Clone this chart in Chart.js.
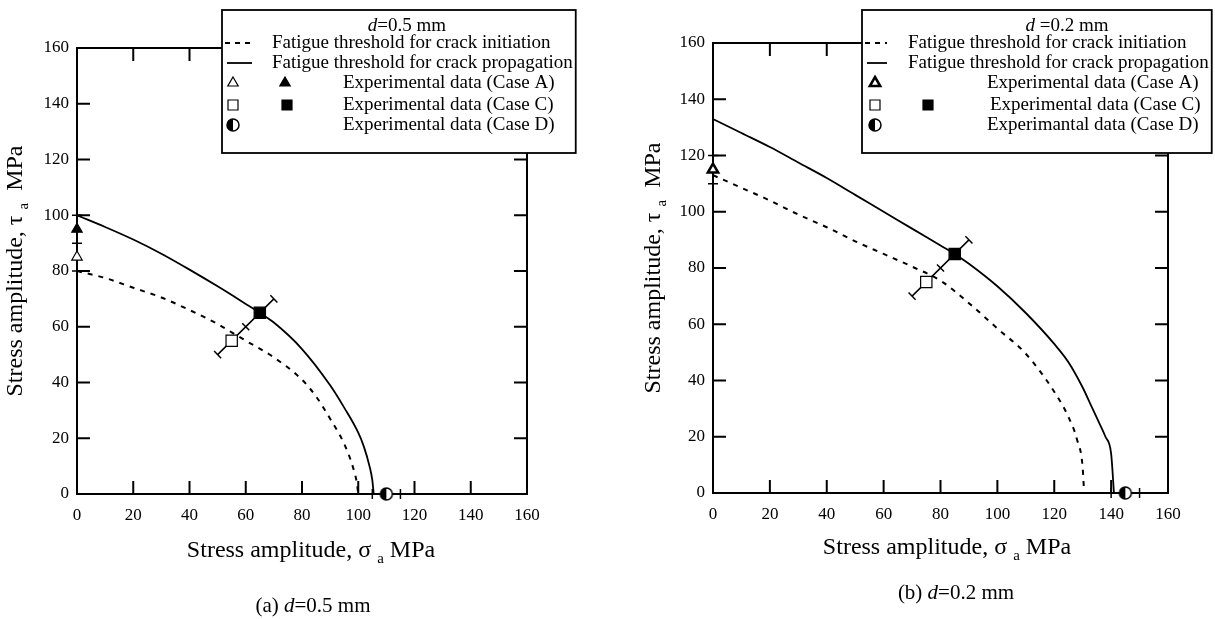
<!DOCTYPE html>
<html>
<head>
<meta charset="utf-8">
<script src="https://cdn.jsdelivr.net/npm/chart.js@4.4.0/dist/chart.umd.min.js"></script>
<style>
  body { margin: 0; background: #fff; width: 1215px; height: 619px; position: relative; overflow: hidden; }
  canvas { position: absolute; top: 0; }
</style>
</head>
<body>
<canvas id="chartA" width="607" height="619" style="left:0px"></canvas>
<canvas id="chartB" width="608" height="619" style="left:607px"></canvas>
<script>
// tick values shared by both axes of both panels
var axisTicks = [0, 20, 40, 60, 80, 100, 120, 140, 160];

// ---- (a) d=0.5 mm ----
var a_initX = [0, 10, 20, 30, 40, 50, 55, 60, 70, 80, 85, 90, 95, 98, 99.5, 100];
var a_initY = [80, 77.5, 74, 70.5, 66, 61, 58, 55, 49, 41, 35, 27, 18, 10, 4, 0];
var a_propX = [0, 10, 20, 30, 40, 50, 60, 65, 70, 80, 90, 95, 100, 102, 104, 105, 105.5];
var a_propY = [100, 95.8, 91.3, 86.2, 80.5, 74.5, 68.2, 65, 61.5, 52, 39, 31, 22, 17, 10, 5, 0];
var a_triOpen = [[0, 85]];
var a_triFill = [[0, 95]];
var a_sqOpen = [[55, 55]];
var a_sqFill = [[65, 65]];
var a_half = [[110, 0]];
var a_errA = [[0, 80], [0, 90], [0, 100]];
var a_errC = [[50, 50], [60, 60], [70, 70]];
var a_errD = [[105, 0], [115, 0]];
var a_legendText = ['Fatigue threshold for crack initiation', 'Fatigue threshold for crack propagation',
  'Experimental data (Case A)', 'Experimental data (Case C)', 'Experimental data (Case D)'];

// ---- (b) d=0.2 mm ----
var b_initX = [0, 10, 20, 30, 40, 50, 60, 70, 80, 90, 100, 110, 120, 125, 128, 130, 130.5];
var b_initY = [113, 108.5, 104, 99, 94.5, 89.5, 85, 80.5, 75.5, 67.5, 58.5, 49.5, 36, 27, 19, 9, 0];
var b_propX = [0, 10, 20, 30, 40, 50, 60, 70, 80, 85, 90, 100, 110, 120, 125, 130, 133, 136, 138, 140, 141];
var b_propY = [133, 128, 123, 117.5, 112, 106, 100, 94, 88, 85, 81.5, 73.5, 64, 53, 46.5, 37.5, 31, 24.5, 20, 14, 0];
var b_triOpen = [[0, 115]];
var b_sqOpen = [[75, 75]];
var b_sqFill = [[85, 85]];
var b_half = [[145, 0]];
var b_errA = [[0, 110], [0, 120]];
var b_errC = [[70, 70], [80, 80], [90, 90]];
var b_errD = [[140, 0], [150, 0]];
var b_legendText = ['Fatigue threshold for crack initiation', 'Fatigue threshold for crack propagation',
  'Experimental data (Case A)', 'Experimental data (Case C)', 'Experimantal data (Case D)'];

var SERIF = '"Liberation Serif", "Times New Roman", serif';

function pts(xs, ys) {
  return xs.map(function (x, i) { return { x: x, y: ys[i] }; });
}
function pairs(arr) {
  return arr.map(function (p) { return { x: p[0], y: p[1] }; });
}

function halfCircle(r) {
  var c = document.createElement('canvas');
  c.width = c.height = 2 * r + 4;
  var g = c.getContext('2d');
  var m = r + 2;
  g.beginPath(); g.arc(m, m, r, 0, 2 * Math.PI); g.fillStyle = '#fff'; g.fill();
  g.beginPath(); g.moveTo(m, m - r); g.arc(m, m, r, -Math.PI / 2, Math.PI / 2, true); g.closePath();
  g.fillStyle = '#000'; g.fill();
  g.beginPath(); g.arc(m, m, r, 0, 2 * Math.PI); g.lineWidth = 1.5; g.strokeStyle = '#000'; g.stroke();
  return c;
}
var halfImg = halfCircle(6);

function drawRuns(ctx, runs, x, y, align) {
  var total = 0;
  runs.forEach(function (r) { ctx.font = r.font; r.w = ctx.measureText(r.t).width; total += r.w; });
  var cx = align === 'center' ? x - total / 2 : x;
  ctx.textAlign = 'left';
  ctx.textBaseline = 'alphabetic';
  runs.forEach(function (r) { ctx.font = r.font; ctx.fillText(r.t, cx, y + (r.dy || 0)); cx += r.w; });
}

function marker(ctx, type, x, y, filled, lw) {
  ctx.save();
  ctx.lineWidth = lw || 1.2;
  ctx.strokeStyle = '#000';
  ctx.fillStyle = filled ? '#000' : '#fff';
  ctx.beginPath();
  if (type === 'tri') {
    ctx.moveTo(x, y - 6); ctx.lineTo(x + 5.2, y + 3); ctx.lineTo(x - 5.2, y + 3); ctx.closePath();
    ctx.fill(); ctx.stroke();
  } else if (type === 'sq') {
    ctx.rect(x - 5, y - 5, 10, 10); ctx.fill(); ctx.stroke();
  } else if (type === 'half') {
    ctx.drawImage(halfImg, x - halfImg.width / 2, y - halfImg.height / 2);
  }
  ctx.restore();
}

function makePanel(canvasId, cfg) {
  var tickFont = { family: SERIF, size: 17 };

  var framePlugin = {
    id: 'frame',
    beforeDatasetsDraw: function (chart) {
      var ctx = chart.ctx, a = chart.chartArea, xs = chart.scales.x, ys = chart.scales.y;
      ctx.save();
      ctx.strokeStyle = '#000';
      ctx.lineWidth = 2;
      ctx.strokeRect(a.left, a.top, a.right - a.left, a.bottom - a.top);
      axisTicks.forEach(function (v) {
        var px = xs.getPixelForValue(v), py = ys.getPixelForValue(v);
        ctx.beginPath();
        ctx.moveTo(px, a.bottom); ctx.lineTo(px, a.bottom - 13);
        ctx.moveTo(px, a.top); ctx.lineTo(px, a.top + 13);
        ctx.moveTo(a.left, py); ctx.lineTo(a.left + 13, py);
        ctx.moveTo(a.right, py); ctx.lineTo(a.right - 13, py);
        ctx.stroke();
      });
      // error bars
      ctx.lineWidth = 1.5;
      cfg.errBars.forEach(function (bar) {
        var p = bar.map(function (q) { return [xs.getPixelForValue(q[0]), ys.getPixelForValue(q[1])]; });
        var f = p[0], l = p[p.length - 1];
        var dx = l[0] - f[0], dy = l[1] - f[1], len = Math.sqrt(dx * dx + dy * dy) || 1;
        var nx = -dy / len * 5, ny = dx / len * 5;
        ctx.beginPath();
        ctx.moveTo(f[0], f[1]); ctx.lineTo(l[0], l[1]);
        p.forEach(function (q) { ctx.moveTo(q[0] - nx, q[1] - ny); ctx.lineTo(q[0] + nx, q[1] + ny); });
        ctx.stroke();
      });
      ctx.restore();
    },
    afterDraw: function (chart) {
      var ctx = chart.ctx;
      var g = cfg.legend;
      ctx.save();
      ctx.fillStyle = '#000';
      // axis titles
      var big = '24px ' + SERIF, sub = '15px ' + SERIF;
      drawRuns(ctx, [{ t: 'Stress amplitude, \u03c3 ', font: big }, { t: 'a', font: sub, dy: 6 }, { t: ' MPa', font: big }],
        cfg.xTitle[0], cfg.xTitle[1], 'center');
      ctx.save();
      ctx.translate(cfg.yTitle[0], cfg.yTitle[1]);
      ctx.rotate(-Math.PI / 2);
      drawRuns(ctx, [{ t: 'Stress amplitude, \u03c4 ', font: big }, { t: 'a', font: sub, dy: 6 }, { t: '  MPa', font: big }],
        0, 8, 'center');
      ctx.restore();
      // caption
      var cap = '21px ' + SERIF;
      drawRuns(ctx, [{ t: cfg.caption[0], font: cap }, { t: 'd', font: 'italic ' + cap }, { t: cfg.caption[1], font: cap }],
        cfg.capPos[0], cfg.capPos[1], 'center');

      // legend box
      var lf = '19px ' + SERIF;
      ctx.font = lf;
      var tw = ctx.measureText(g.text[1]).width;
      var bw = g.lineTextX - g.box[0] + tw + 3;
      ctx.fillStyle = '#fff';
      ctx.fillRect(g.box[0], g.box[1], bw, g.box[2]);
      ctx.strokeStyle = '#000';
      ctx.lineWidth = 1.8;
      ctx.strokeRect(g.box[0], g.box[1], bw, g.box[2]);
      ctx.fillStyle = '#000';
      drawRuns(ctx, [{ t: 'd', font: 'italic ' + lf }, { t: g.title, font: lf }], g.titleX, g.rows[0] + 6, 'center');
      // line samples
      ctx.lineWidth = 1.8;
      ctx.setLineDash([5, 5]);
      ctx.beginPath(); ctx.moveTo(g.sample[0], g.rows[1]); ctx.lineTo(g.sample[1], g.rows[1]); ctx.stroke();
      ctx.setLineDash([]);
      ctx.beginPath(); ctx.moveTo(g.sample[0] + 2, g.rows[2]); ctx.lineTo(g.sample[1], g.rows[2]); ctx.stroke();
      ctx.font = lf;
      ctx.textBaseline = 'middle';
      ctx.fillText(g.text[0], g.lineTextX, g.rows[1]);
      ctx.fillText(g.text[1], g.lineTextX, g.rows[2]);
      for (var i = 2; i < 5; i++) ctx.fillText(g.text[i], g.dataTextX[i - 2], g.rows[i + 1]);
      g.marks.forEach(function (m) { marker(ctx, m[0], m[1], g.rows[m[2]], m[3], m[4]); });
      ctx.restore();
    }
  };

  var line = function (xs, ys, dash) {
    return {
      type: 'line', data: pts(xs, ys), borderColor: '#000', borderWidth: dash ? 2 : 1.8,
      borderDash: dash ? [5, 6] : [], pointRadius: 0, fill: false, cubicInterpolationMode: 'monotone'
    };
  };
  var mark = function (arr, style, filled, r, bw) {
    return {
      type: 'scatter', data: pairs(arr), pointStyle: style, pointRadius: r,
      backgroundColor: filled ? '#000' : '#fff', borderColor: '#000', borderWidth: bw, clip: false
    };
  };

  var datasets = [line(cfg.initX, cfg.initY, true), line(cfg.propX, cfg.propY, false)];
  cfg.marks.forEach(function (m) { datasets.push(mark(m[0], m[1], m[2], m[3], m[4])); });

  return new Chart(document.getElementById(canvasId), {
    type: 'scatter',
    data: { datasets: datasets },
    options: {
      responsive: false,
      animation: false,
      events: [],
      layout: { padding: cfg.padding },
      plugins: { legend: { display: false }, tooltip: { enabled: false } },
      scales: {
        x: {
          type: 'linear', min: 0, max: 160,
          afterBuildTicks: function (s) { s.ticks = axisTicks.map(function (v) { return { value: v }; }); },
          afterFit: function (s) { s.height = 40; },
          ticks: { font: tickFont, color: '#000', padding: 11, maxRotation: 0 },
          grid: { display: false, drawTicks: false }, border: { display: false }
        },
        y: {
          type: 'linear', min: 0, max: 160,
          afterBuildTicks: function (s) { s.ticks = axisTicks.map(function (v) { return { value: v }; }); },
          afterFit: function (s) { s.width = cfg.yWidth; },
          ticks: { font: tickFont, color: '#000', padding: 8 },
          grid: { display: false, drawTicks: false }, border: { display: false }
        }
      }
    },
    plugins: [framePlugin]
  });
}

makePanel('chartA', {
  initX: a_initX, initY: a_initY, propX: a_propX, propY: a_propY,
  marks: [[a_triOpen, 'triangle', false, 6, 1.2], [a_triFill, 'triangle', true, 6, 1.2],
          [a_sqOpen, 'rect', false, 8, 1.2], [a_sqFill, 'rect', true, 8, 1.2], [a_half, halfImg, false, 6, 1]],
  errBars: [a_errA, a_errC, a_errD],
  padding: { left: 0, right: 80, top: 48, bottom: 85 },
  yWidth: 77,
  xTitle: [311, 557], yTitle: [14, 271],
  caption: ['(a) ', '=0.5 mm'], capPos: [313, 612],
  legend: {
    box: [222, 10, 143], title: '=0.5 mm', titleX: 407,
    rows: [25, 43, 63, 83, 105, 125],
    sample: [225, 252], lineTextX: 272, dataTextX: [343, 343, 343],
    text: a_legendText,
    marks: [['tri', 233, 3, false], ['tri', 285, 3, true], ['sq', 233, 4, false], ['sq', 287, 4, true], ['half', 233, 5]]
  }
});

makePanel('chartB', {
  initX: b_initX, initY: b_initY, propX: b_propX, propY: b_propY,
  marks: [[b_triOpen, 'triangle', false, 6, 2.5], [b_sqOpen, 'rect', false, 8, 1.2],
          [b_sqFill, 'rect', true, 8, 1.2], [b_half, halfImg, false, 6, 1]],
  errBars: [b_errA, b_errC, b_errD],
  padding: { left: 0, right: 47, top: 43, bottom: 86 },
  yWidth: 106,
  xTitle: [340, 554], yTitle: [45, 268],
  caption: ['(b) ', '=0.2 mm'], capPos: [349, 599],
  legend: {
    box: [255, 10, 143], title: ' =0.2 mm', titleX: 460,
    rows: [25, 43, 63, 83, 105, 125],
    sample: [258, 280], lineTextX: 301, dataTextX: [380, 383, 380],
    text: b_legendText,
    marks: [['tri', 268, 3, false, 2.5], ['sq', 268, 4, false], ['sq', 321, 4, true], ['half', 268, 5]]
  }
});
</script>
</body>
</html>
